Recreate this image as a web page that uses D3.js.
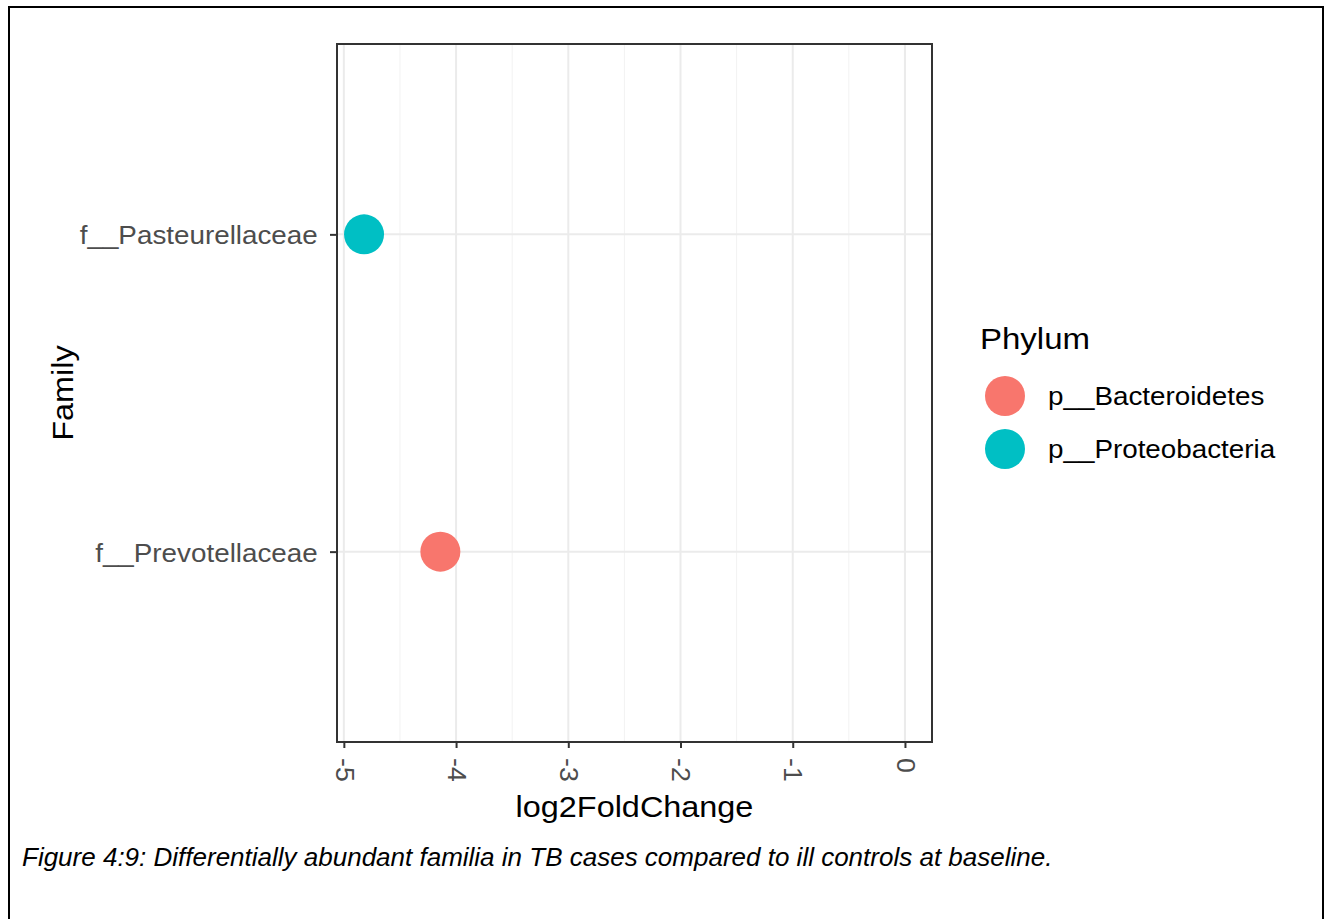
<!DOCTYPE html>
<html>
<head>
<meta charset="utf-8">
<script src="https://cdn.jsdelivr.net/npm/d3@7"></script>
<style>
  body { margin: 0; background: #fff; }
  svg { display: block; font-family: "Liberation Sans", Arial, sans-serif; }
</style>
</head>
<body>
<div id="chart"></div>
<script>
// data
var families = ["f__Pasteurellaceae", "f__Prevotellaceae"];
var foldChange = [-4.82, -4.14];
var phylumOf = ["p__Proteobacteria", "p__Bacteroidetes"];
var phyla = ["p__Bacteroidetes", "p__Proteobacteria"];
var phylumColors = ["#F8766D", "#00BFC4"];
var xTicks = [-5, -4, -3, -2, -1, 0];
var caption = "Figure 4:9: Differentially abundant familia in TB cases compared to ill controls at baseline.";

var fullwidth = 1325, fullheight = 919;
var panel = {left: 337, top: 44, right: 932, bottom: 742};
var stretch = 1.07; // text in the original screenshot is a bit wide

var svg = d3.select("#chart").append("svg")
    .attr("width", fullwidth)
    .attr("height", fullheight);

// outer frame
svg.append("rect")
    .attr("x", 9).attr("y", 7)
    .attr("width", 1314).attr("height", 930)
    .attr("fill", "none").attr("stroke", "#000").attr("stroke-width", 2);

// x domain: data + 0, expanded 5% like ggplot
var lo = d3.min(foldChange), hi = 0;
var pad = (hi - lo) * 0.05;
var xScale = d3.scaleLinear()
    .domain([lo - pad, hi + pad])
    .range([panel.left, panel.right]);

// discrete y, expansion of 0.6 units
var yScale = d3.scaleLinear()
    .domain([0.4, 2.6])
    .range([panel.top, panel.bottom]);

var colorScale = d3.scaleOrdinal().domain(phyla).range(phylumColors);

var g = svg.append("g");

// minor grid
var minor = xTicks.slice(0, -1).map(function(d) { return d + 0.5; });
g.selectAll(".minor").data(minor).enter().append("line")
    .attr("x1", function(d) { return xScale(d); })
    .attr("x2", function(d) { return xScale(d); })
    .attr("y1", panel.top).attr("y2", panel.bottom)
    .attr("stroke", "#F2F2F2").attr("stroke-width", 1);

// major grid
g.selectAll(".majorx").data(xTicks).enter().append("line")
    .attr("x1", function(d) { return xScale(d); })
    .attr("x2", function(d) { return xScale(d); })
    .attr("y1", panel.top).attr("y2", panel.bottom)
    .attr("stroke", "#EBEBEB").attr("stroke-width", 2);

g.selectAll(".majory").data(families).enter().append("line")
    .attr("x1", panel.left).attr("x2", panel.right)
    .attr("y1", function(d, i) { return yScale(i + 1); })
    .attr("y2", function(d, i) { return yScale(i + 1); })
    .attr("stroke", "#EBEBEB").attr("stroke-width", 2);

// points
g.selectAll("circle.pt").data(families).enter().append("circle")
    .attr("class", "pt")
    .attr("cx", function(d, i) { return xScale(foldChange[i]); })
    .attr("cy", function(d, i) { return yScale(i + 1); })
    .attr("r", 20)
    .attr("fill", function(d, i) { return colorScale(phylumOf[i]); });

// panel border
svg.append("rect")
    .attr("x", panel.left).attr("y", panel.top)
    .attr("width", panel.right - panel.left)
    .attr("height", panel.bottom - panel.top)
    .attr("fill", "none").attr("stroke", "#333").attr("stroke-width", 2);

// x axis
var xAxis = d3.axisBottom(xScale).tickValues(xTicks).tickSize(6).tickFormat(d3.format("d"));
var xg = svg.append("g")
    .attr("transform", "translate(0," + panel.bottom + ")")
    .call(xAxis);
xg.select(".domain").remove();
xg.selectAll(".tick line").attr("stroke", "#333").attr("stroke-width", 2);
xg.selectAll(".tick text")
    .attr("fill", "#4D4D4D")
    .style("font-size", "25px")
    .attr("text-anchor", "start")
    .attr("transform", "rotate(90) scale(" + stretch + ",1)")
    .attr("x", 15).attr("y", 0).attr("dy", "0.35em")
    .text(function(d) { return d < 0 ? "-" + Math.abs(d) : d; });

// y axis
var yAxis = d3.axisLeft(yScale).tickValues([1, 2]).tickSize(7)
    .tickFormat(function(d) { return families[d - 1]; });
var yg = svg.append("g")
    .attr("transform", "translate(" + panel.left + ",0)")
    .call(yAxis);
yg.select(".domain").remove();
yg.selectAll(".tick line").attr("stroke", "#333").attr("stroke-width", 2);
yg.selectAll(".tick text")
    .attr("fill", "#4D4D4D")
    .style("font-size", "26px")
    .attr("transform", "scale(" + stretch + ",1)")
    .attr("x", -18).attr("dy", "0.36em");

// axis titles
svg.append("text")
    .attr("transform", "translate(" + (panel.left + panel.right) / 2 + ",817) scale(1.08,1)")
    .attr("text-anchor", "middle")
    .style("font-size", "30px")
    .text("log2FoldChange");

svg.append("text")
    .attr("transform", "translate(73," + (panel.top + panel.bottom) / 2 + ") rotate(-90) scale(1.08,1)")
    .attr("text-anchor", "middle")
    .style("font-size", "30px")
    .text("Family");

// legend
var legend = svg.append("g").attr("transform", "translate(980,0)");
legend.append("text")
    .attr("transform", "translate(0,349) scale(1.1,1)")
    .style("font-size", "30px")
    .text("Phylum");
var items = legend.selectAll(".item").data(phyla).enter().append("g")
    .attr("transform", function(d, i) { return "translate(0," + (396 + i * 53) + ")"; });
items.append("circle")
    .attr("cx", 25).attr("cy", 0).attr("r", 20)
    .attr("fill", function(d) { return colorScale(d); });
items.append("text")
    .attr("transform", "translate(68,0) scale(" + stretch + ",1)")
    .attr("dy", "0.36em")
    .style("font-size", "26px")
    .text(function(d) { return d; });

// caption
svg.append("text")
    .attr("x", 22).attr("y", 866)
    .style("font-size", "26px")
    .style("font-style", "italic")
    .text(caption);
</script>
</body>
</html>
